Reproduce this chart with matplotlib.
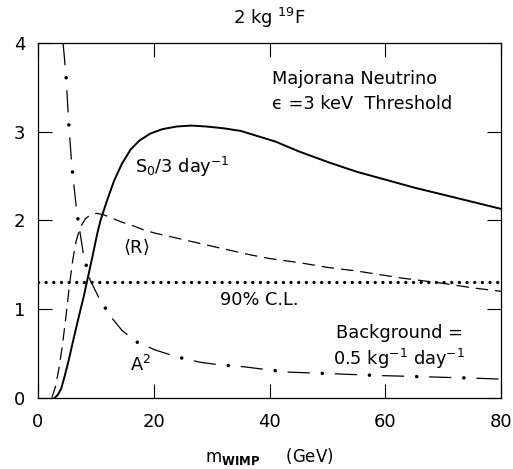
import numpy as np
import matplotlib
matplotlib.use("Agg")
import matplotlib.pyplot as plt

plt.rcParams['font.family'] = ['DejaVu Sans']
plt.rcParams['mathtext.fontset'] = 'dejavusans'
plt.rcParams['lines.scale_dashes'] = False

# S0/3 (day^-1), solid curve
s0_mass = [2.9, 3.4, 4.0, 4.6, 5.3, 6.1, 7.0, 7.9, 8.7, 9.5, 10.2, 10.8, 11.8,
           13.1, 14.5, 16.0, 17.5, 19.4, 21.5, 24.0, 26.5, 29.0, 32.0, 35.0,
           38.0, 41.0, 45.0, 50.0, 55.0, 60.0, 65.0, 70.0, 75.0, 80.0]
s0_rate = [0.0, 0.03, 0.10, 0.24, 0.42, 0.65, 0.90, 1.14, 1.38, 1.62, 1.84, 2.00, 2.20,
           2.44, 2.64, 2.80, 2.90, 2.98, 3.03, 3.06, 3.07, 3.06, 3.04, 3.01,
           2.95, 2.89, 2.78, 2.66, 2.55, 2.46, 2.37, 2.29, 2.21, 2.13]

# <R>, dashed curve
r_mass = [2.4, 3.0, 3.6, 4.2, 4.8, 5.4, 6.0, 6.6, 7.3, 8.2, 9.2, 10.2, 11.5,
          13.0, 14.5, 16.0, 18.0, 20.0, 24.0, 28.0, 32.0, 36.8, 40.0, 45.5,
          50.0, 55.0, 62.8, 70.0, 75.0, 80.0]
r_rate = [0.0, 0.12, 0.32, 0.58, 0.90, 1.25, 1.55, 1.77, 1.92, 2.02, 2.07, 2.08, 2.06,
          2.02, 1.98, 1.95, 1.90, 1.86, 1.80, 1.74, 1.68, 1.61, 1.57, 1.52,
          1.47, 1.43, 1.35, 1.29, 1.24, 1.20]

# A^2, dash-dot curve
a2_mass = [4.34, 4.86, 5.27, 5.85, 6.7, 7.87, 9.0, 10.5, 12.5, 14.5, 17.0, 20.2,
           24.0, 28.0, 31.5, 35.4, 42.9, 51.0, 59.0, 67.5, 75.5, 80.0]
a2_val = [4.0, 3.62, 3.14, 2.61, 2.10, 1.61, 1.33, 1.13, 0.92, 0.76, 0.63, 0.54,
          0.46, 0.40, 0.37, 0.35, 0.29, 0.27, 0.25, 0.235, 0.22, 0.21]

cl_level = 1.3  # 90% C.L.

fig = plt.figure(figsize=(5.13, 4.69), dpi=100)
ax = fig.add_axes([0.074, 0.152, 0.903, 0.756])

ax.plot(s0_mass, s0_rate, color='black', lw=1.4)
ax.plot(r_mass, r_rate, color='black', lw=0.9, linestyle=(0, (9, 5)))
ax.plot(a2_mass, a2_val, color='black', lw=0.9, linestyle=(0, (16, 18)))
ax.plot(a2_mass, a2_val, color='black', lw=2.6, linestyle=(9, (0.01, 33.99)),
        solid_capstyle='round', dash_capstyle='round')
ax.axhline(cl_level, color='black', lw=2.4, linestyle=(0, (0.01, 5.5)),
           dash_capstyle='round')

ax.set_xlim(0, 80)
ax.set_ylim(0, 4)
ax.set_xticks([0, 20, 40, 60, 80])
ax.set_yticks([0, 1, 2, 3, 4])
ax.tick_params(direction='in', length=10, width=0.8, top=True, right=True,
               labelsize=13)
ax.tick_params(axis='x', pad=11)
ax.tick_params(axis='y', pad=9)
for sp in ax.spines.values():
    sp.set_linewidth(0.9)

ax.set_title(r'2 kg $^{19}$F', fontsize=13, pad=14)
ax.set_xlabel(r'm$_{\mathbf{WIMP}}$     (GeV)', fontsize=12, labelpad=11)

fs = 12.8
ax.text(40.5, 3.59, 'Majorana Neutrino', fontsize=fs, va='center')
ax.text(40.5, 3.31, '\u03f5 =3 keV  Threshold', fontsize=fs, va='center')
ax.text(16.8, 2.54, r'S$_0$/3 day$^{-1}$', fontsize=fs, va='baseline')
ax.text(14.7, 1.69, r'$\langle$R$\rangle$', fontsize=fs, va='center')
ax.text(31.5, 1.10, '90% C.L.', fontsize=fs, va='center')
ax.text(15.9, 0.30, r'A$^2$', fontsize=fs, va='baseline')
ax.text(51.4, 0.73, 'Background =', fontsize=fs, va='center')
ax.text(51.0, 0.37, r'0.5 kg$^{-1}$ day$^{-1}$', fontsize=fs, va='baseline')

fig.savefig('out.png', dpi=100)
